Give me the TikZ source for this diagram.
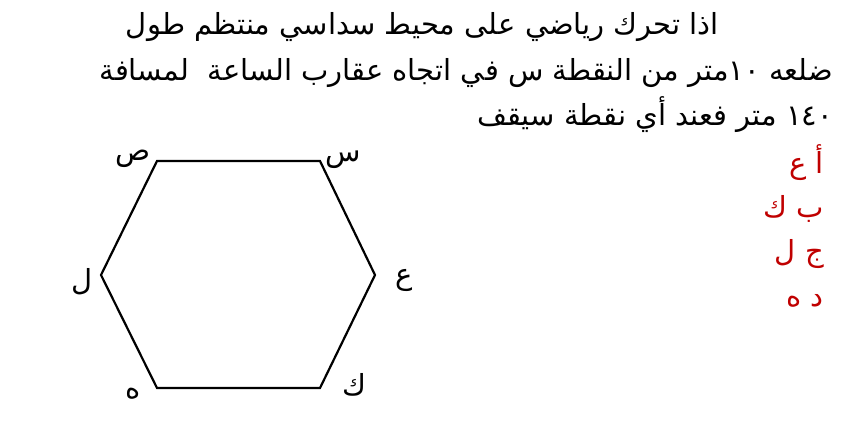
\documentclass[tikz,border=0pt]{standalone}
\usepackage{fontspec}
\usetikzlibrary{positioning}
\TeXXeTstate=1
\newfontfamily\arabicfont[Script=Arabic]{DejaVu Sans}
\definecolor{choicered}{RGB}{192,0,0}
\tikzset {
  % one line of the question, set from its right end
  question/.style = {
    anchor = base east,
    inner sep = 0,
    font = \arabicfont\fontsize{29}{34}\selectfont
  },
  % letter at a corner of the hexagon
  corner/.style = {
    inner sep = 0,
    font = \arabicfont\fontsize{29}{34}\selectfont
  },
  % one of the four answers
  choice/.style = {
    question,
    text = choicered
  },
  side/.style = {
    draw = black,
    line width = 2.2pt
  }
}

\begin{document}
\begin{tikzpicture}[x=1pt, y=-1pt]
    \useasboundingbox (0,0) rectangle (845,428);

    \node[question] (line-one) at (719,35) {\beginR اذا تحرك رياضي على محيط سداسي منتظم طول\endR};
    \node[question] (line-two) at (833,80) {\beginR ضلعه \beginL١٠\endL{}متر من النقطة س في اتجاه عقارب الساعة~ لمسافة\endR};
    \node[question] (line-three) at (833,125) {\beginR\beginL١٤٠\endL{} متر فعند أي نقطة سيقف\endR};

    \coordinate (sin) at (320,161);
    \coordinate (ain) at (375,275);
    \coordinate (kaf) at (320,388);
    \coordinate (ha) at (157,388);
    \coordinate (lam) at (101,275);
    \coordinate (sad) at (157,161);

    \draw[side] (sin)
    -- (ain)
    -- (kaf)
    -- (ha)
    -- (lam)
    -- (sad)
    -- cycle;

    \node[corner] (sin-label) at (343,160) {\beginR س\endR};
    \node[corner] (ain-label) at (404,280) {\beginR ع\endR};
    \node[corner] (kaf-label) at (354,385) {\beginR ك\endR};
    \node[corner] (ha-label) at (133,394) {\beginR ه\endR};
    \node[corner] (lam-label) at (82,282) {\beginR ل\endR};
    \node[corner] (sad-label) at (133,159) {\beginR ص\endR};

    \node[choice] (choice-a) at (824,173) {\beginR أ ع\endR};
    \node[choice] (choice-b) at (824,217) {\beginR ب ك\endR};
    \node[choice] (choice-c) at (824,261) {\beginR ج ل\endR};
    \node[choice] (choice-d) at (824,306) {\beginR د ه\endR};
\end{tikzpicture}
\end{document}
